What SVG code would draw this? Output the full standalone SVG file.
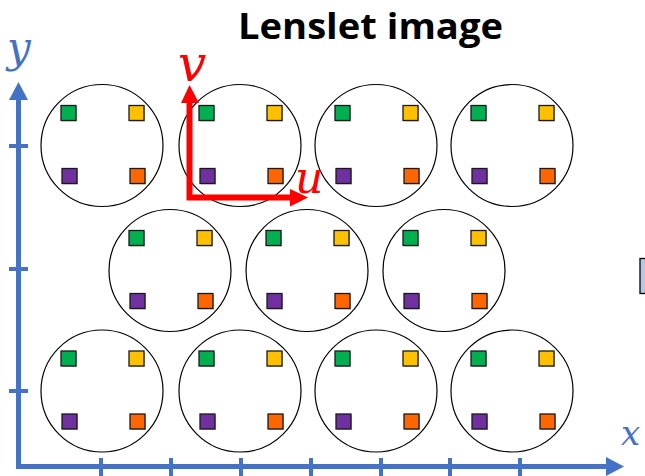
<svg xmlns="http://www.w3.org/2000/svg" width="645" height="476" viewBox="0 0 645 476">
  <style>
    .lens { fill: #ffffff; stroke: #000000; stroke-width: 1.2; }
    .px { stroke: #1a1a1a; stroke-width: 1.3; }
    .sh { fill: #c4c4c4; }
    .g { fill: #00b050; }
    .y { fill: #ffc000; }
    .p { fill: #7030a0; }
    .o { fill: #ff6600; }
    .axis { stroke: #4472c4; stroke-width: 5; fill: none; }
    .tick { stroke: #4472c4; stroke-width: 4; }
    .uv { stroke: #ff0000; stroke-width: 6; fill: none; }
    .title { font-family: "Open Sans", "Liberation Sans", sans-serif; font-weight: bold; font-size: 36px; fill: #000; }
    .math { font-family: "DejaVu Serif", "Liberation Serif", serif; font-style: italic; }
  </style>
  <defs>
    <!-- one lenslet: circle with four colored sub-aperture pixels -->
    <g id="lenslet">
      <circle class="lens" cx="0" cy="0" r="61"/>
      <rect class="sh" x="-40" y="-39" width="15" height="15"/>
      <rect class="sh" x="28" y="-39" width="15" height="15"/>
      <rect class="sh" x="-39" y="24" width="15" height="15"/>
      <rect class="sh" x="29" y="24" width="15" height="15"/>
      <rect class="px g" x="-41" y="-40" width="15" height="15"/>
      <rect class="px y" x="27" y="-40" width="15" height="15"/>
      <rect class="px p" x="-40" y="23" width="15" height="15"/>
      <rect class="px o" x="28" y="23" width="15" height="15"/>
    </g>
  </defs>

  <text class="title" x="238" y="39" textLength="265" lengthAdjust="spacingAndGlyphs">Lenslet image</text>

  <!-- lenslet grid -->
  <g id="lenslets">
    <use id="l11" href="#lenslet" x="102" y="145.5"/>
    <use id="l12" href="#lenslet" x="240" y="145.5"/>
    <use id="l13" href="#lenslet" x="376" y="145.5"/>
    <use id="l14" href="#lenslet" x="512" y="145.5"/>
    <use id="l21" href="#lenslet" x="170" y="270.5"/>
    <use id="l22" href="#lenslet" x="307" y="270.5"/>
    <use id="l23" href="#lenslet" x="444" y="270.5"/>
    <use id="l31" href="#lenslet" x="102" y="391"/>
    <use id="l32" href="#lenslet" x="240" y="391"/>
    <use id="l33" href="#lenslet" x="376" y="391"/>
    <use id="l34" href="#lenslet" x="512" y="391"/>
  </g>

  <!-- small box at the right edge -->
  <rect x="640" y="258.5" width="10" height="35" fill="#b4c7e7" stroke="#000" stroke-width="1.3"/>

  <!-- x / y axes -->
  <g id="axes">
    <path class="axis" d="M18.5 99 V466.5 H608"/>
    <polygon points="18.5,82 9,100 28,100" fill="#4472c4"/>
    <polygon points="624,466.5 606,457 606,476" fill="#4472c4"/>
    <line class="tick" x1="9" y1="146" x2="28" y2="146"/>
    <line class="tick" x1="9" y1="269" x2="28" y2="269"/>
    <line class="tick" x1="9" y1="391" x2="28" y2="391"/>
    <line class="tick" x1="101" y1="458" x2="101" y2="476"/>
    <line class="tick" x1="171" y1="458" x2="171" y2="476"/>
    <line class="tick" x1="241" y1="458" x2="241" y2="476"/>
    <line class="tick" x1="311" y1="458" x2="311" y2="476"/>
    <line class="tick" x1="381" y1="458" x2="381" y2="476"/>
    <line class="tick" x1="450" y1="458" x2="450" y2="476"/>
    <line class="tick" x1="520" y1="458" x2="520" y2="476"/>
    <text class="math" x="7" y="62" font-size="42" fill="#4472c4">y</text>
    <text class="math" x="621" y="445" font-size="34" fill="#4472c4">x</text>
  </g>

  <!-- u / v local axes -->
  <g id="uv">
    <path class="uv" d="M189.5 102 V197.5 H291"/>
    <polygon points="189.5,85 181,103 199,103" fill="#ff0000"/>
    <polygon points="308,197.5 290,189 290,206.5" fill="#ff0000"/>
    <text class="math" x="178" y="81" font-size="50" fill="#ff0000">v</text>
    <text class="math" x="295" y="193" font-size="44" fill="#ff0000">u</text>
  </g>
</svg>
